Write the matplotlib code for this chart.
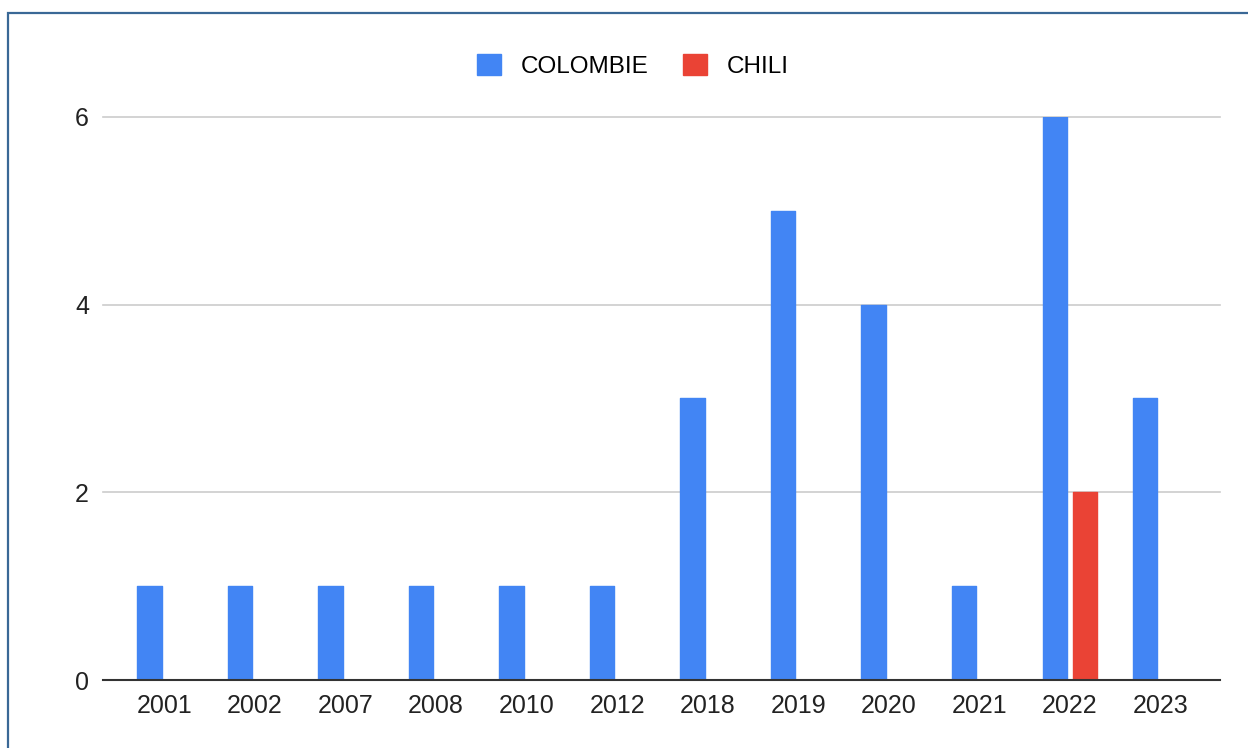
import matplotlib.pyplot as plt
import matplotlib.patches as mpatches
import numpy as np

plt.rcParams['font.family'] = ['Liberation Sans', 'DejaVu Sans']

YEARS = ["2001", "2002", "2007", "2008", "2010", "2012",
         "2018", "2019", "2020", "2021", "2022", "2023"]
COLOMBIE = [1, 1, 1, 1, 1, 1, 3, 5, 4, 1, 6, 3]
CHILI = [0, 0, 0, 0, 0, 0, 0, 0, 0, 0, 2, 0]

BLUE = "#4285F4"
RED = "#EA4335"

fig = plt.figure(figsize=(12.48, 7.48), dpi=100)
ax = fig.add_axes([0.0825, 0.0909, 0.8951, 0.7527])

x = np.arange(len(YEARS))
w = 0.27
off = 0.166
ax.bar(x - off, COLOMBIE, width=w, color=BLUE, label="COLOMBIE", zorder=3,
       edgecolor=BLUE, linewidth=1.0, joinstyle="round")
chili = [v if v > 0 else np.nan for v in CHILI]
ax.bar(x + off, chili, width=w, color=RED, label="CHILI", zorder=3,
       edgecolor=RED, linewidth=1.0, joinstyle="round")

ax.set_xlim(-0.68, 11.66)
ax.set_ylim(0, 6)
ax.set_yticks([0, 2, 4, 6])
ax.set_xticks(x)
ax.set_xticklabels(YEARS)
ax.tick_params(length=0, labelsize=18, colors="#222222")
ax.tick_params(axis="y", pad=10)
ax.tick_params(axis="x", pad=10)
ax.grid(axis="y", color="#cccccc", linewidth=1.2, zorder=0)
ax.set_axisbelow(True)
for s in ["top", "right", "left"]:
    ax.spines[s].set_visible(False)
ax.spines["bottom"].set_color("#333333")
ax.spines["bottom"].set_linewidth(1.5)
ax.spines["bottom"].set_zorder(4)
for line in ax.get_ygridlines():
    line.set_clip_on(False)

fig.legend(handles=[mpatches.Patch(color=BLUE, label="COLOMBIE"),
                    mpatches.Patch(color=RED, label="CHILI")],
           loc="center", bbox_to_anchor=(0.507, 0.912), ncol=2, frameon=False,
           fontsize=17.5, handlelength=1.0, handleheight=1.0,
           columnspacing=1.4, handletextpad=0.8)

# frame around the chart (only top and left edges visible in the crop)
fig.patches.append(mpatches.Rectangle((8 / 1248, -0.1), 1.2, 1 - 13 / 748 + 0.1,
                                      transform=fig.transFigure, fill=False,
                                      edgecolor="#3a6896", linewidth=1.6))

fig.savefig("out.png", dpi=100)
